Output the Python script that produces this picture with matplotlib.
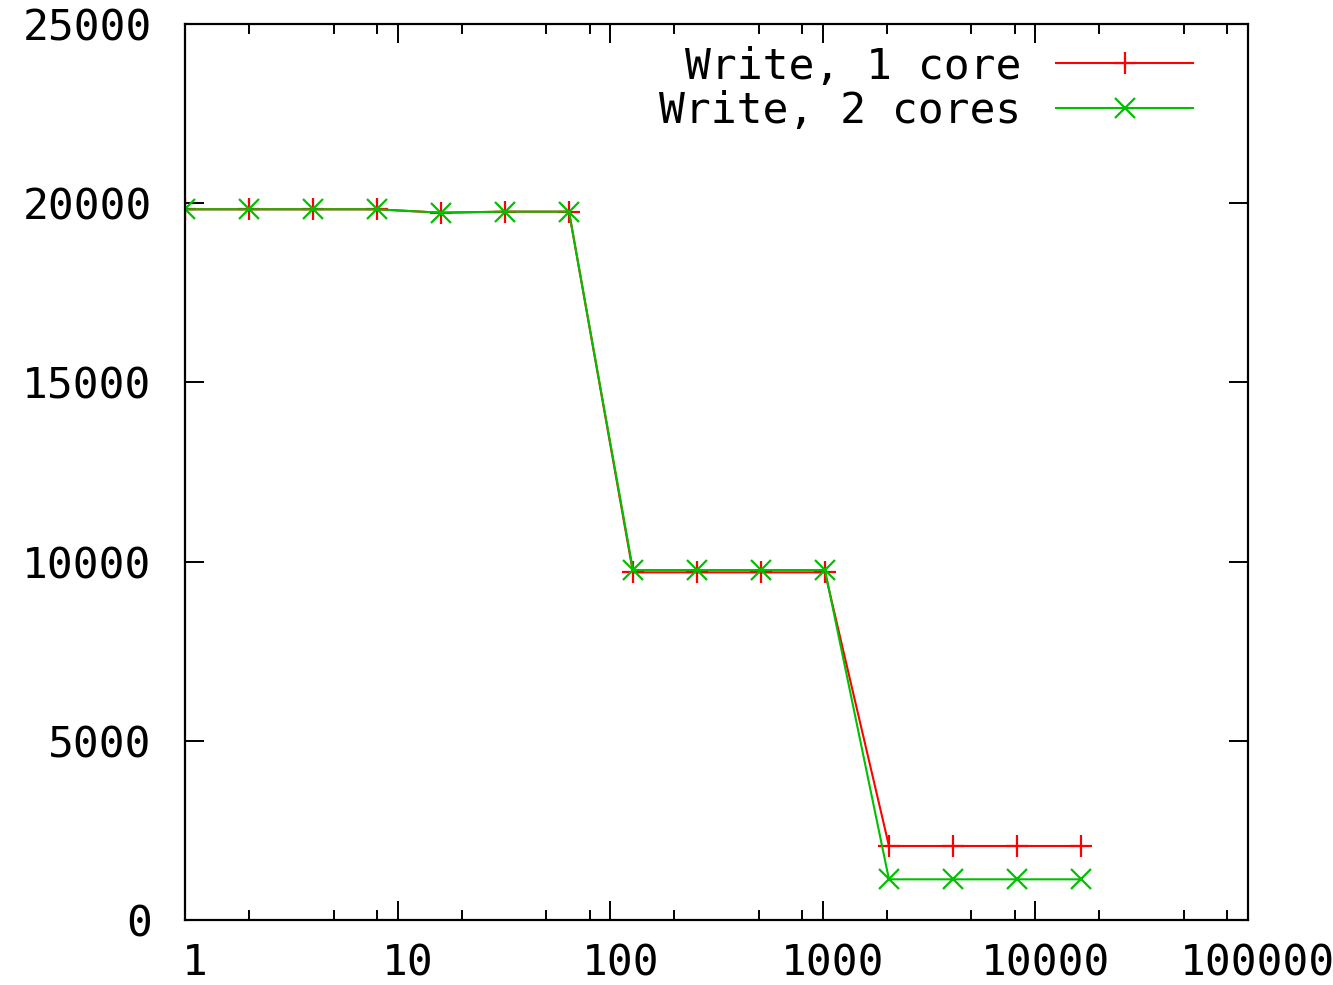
import matplotlib
matplotlib.use("Agg")
import matplotlib.pyplot as plt
import matplotlib.transforms as mtransforms
from matplotlib.ticker import FixedLocator, NullFormatter

# block sizes (x axis, log scale)
block_sizes = [1, 2, 4, 8, 16, 32, 64, 128, 256, 512, 1024, 2048, 4096, 8192, 16384]

# write throughput
write_1core = [19830, 19830, 19830, 19830, 19735, 19765, 19765,
               9700, 9700, 9700, 9700, 2065, 2065, 2065, 2065]
write_2cores = [19830, 19830, 19830, 19830, 19735, 19765, 19765,
                9765, 9765, 9765, 9765, 1135, 1135, 1135, 1135]

x_major = [1, 10, 100, 1000, 10000, 100000]
x_labels = ["1", "10", "100", "1000", "10000", "100000"]
x_minor = [m * 10 ** d for d in range(5) for m in (2, 5, 8)]
y_major = [0, 5000, 10000, 15000, 20000, 25000]

plt.rcParams['font.family'] = ['DejaVu Sans Mono']

fig = plt.figure(figsize=(13.33, 9.85), dpi=100)
ax = fig.add_axes([0.1388, 0.066, 0.7974, 0.9096])

ax.plot(block_sizes, write_1core, color='#ff0000', lw=1.5,
        marker='+', ms=16, mew=1.6, label='Write, 1 core')
ax.plot(block_sizes, write_2cores, color='#00c000', lw=1.5,
        marker='x', ms=15, mew=1.6, label='Write, 2 cores')

ax.set_xscale('log')
ax.set_xlim(1, 100000)
ax.set_ylim(0, 25000)

ax.xaxis.set_major_locator(FixedLocator(x_major))
ax.set_xticklabels(x_labels)
ax.xaxis.set_minor_locator(FixedLocator(x_minor))
ax.xaxis.set_minor_formatter(NullFormatter())
ax.set_yticks(y_major)
ax.set_yticklabels([str(v) for v in y_major])

ax.tick_params(which='both', direction='in', top=True, right=True,
               width=1.4, colors='black', labelsize=31)
ax.tick_params(which='major', length=14)
ax.tick_params(which='minor', length=7)
ax.tick_params(axis='x', which='major', pad=16)
ax.tick_params(axis='y', which='major', pad=24)

# nudge x labels slightly right like the original
offset = mtransforms.ScaledTranslation(10 / 100, 0, fig.dpi_scale_trans)
for lbl in ax.get_xticklabels():
    lbl.set_transform(lbl.get_transform() + offset)

for sp in ax.spines.values():
    sp.set_linewidth(1.6)

leg = ax.legend(loc='upper right', frameon=False, markerfirst=False,
                fontsize=31, handlelength=3.2, handletextpad=0.8,
                labelspacing=0.05, borderaxespad=0.1,
                bbox_to_anchor=(0.969, 1.0))

fig.savefig('out.png', dpi=100)
